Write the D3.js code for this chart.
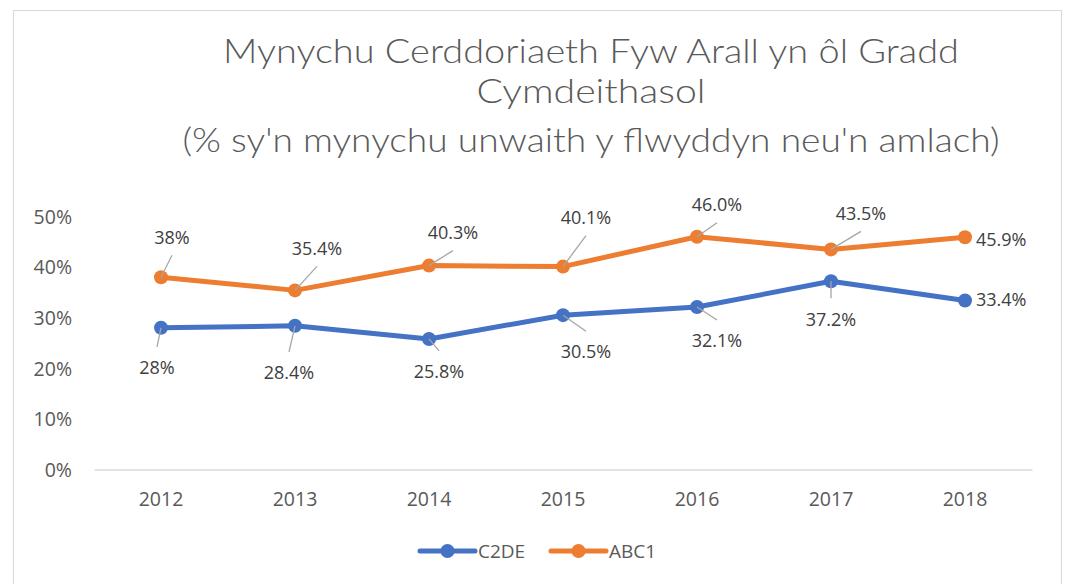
<!DOCTYPE html>
<html>
<head>
<meta charset="utf-8">
<script src="https://cdn.jsdelivr.net/npm/d3@7"></script>
<style>
  body { margin: 0; background: #fff; }
  text { font-family: "Open Sans", "Noto Sans", sans-serif; }
</style>
</head>
<body>
<div id="chart"></div>
<script>
const years = ["2012", "2013", "2014", "2015", "2016", "2017", "2018"];
const c2de = [28, 28.4, 25.8, 30.5, 32.1, 37.2, 33.4];
const abc1 = [38, 35.4, 40.3, 40.1, 46.0, 43.5, 45.9];
const c2deLabels = ["28%", "28.4%", "25.8%", "30.5%", "32.1%", "37.2%", "33.4%"];
const abc1Labels = ["38%", "35.4%", "40.3%", "40.1%", "46.0%", "43.5%", "45.9%"];
const yTicks = [0, 10, 20, 30, 40, 50];

// label placement relative to each point (pixels)
const c2deOffsets = [[-4, 40], [-6, 47], [10, 33], [23, 37], [20, 34], [0, 38], [33, -1]];
const abc1Offsets = [[11, -40], [22, -42], [24, -33], [23, -49], [20, -32], [30, -36], [33, 2]];

const WIDTH = 1068;
const HEIGHT = 584;
const BLUE = "#4472C4";
const ORANGE = "#ED7D31";

const svg = d3.select("#chart")
  .append("svg")
  .attr("width", WIDTH)
  .attr("height", HEIGHT);

svg.append("rect")
  .attr("x", 13.5)
  .attr("y", 10.5)
  .attr("width", 1048)
  .attr("height", 600)
  .attr("fill", "#fff")
  .attr("stroke", "#d9d9d9");

// titles
function addTitle(txt, y, len, size) {
  svg.append("text")
    .attr("x", 591)
    .attr("y", y)
    .attr("text-anchor", "middle")
    .attr("fill", "#595959")
    .style("font-family", "Lato, 'Open Sans', sans-serif")
    .style("font-weight", 300)
    .style("font-size", size + "px")
    .attr("textLength", len)
    .attr("lengthAdjust", "spacingAndGlyphs")
    .text(txt);
}
addTitle("Mynychu Cerddoriaeth Fyw Arall yn ôl Gradd", 63, 736, 33);
addTitle("Cymdeithasol", 103, 229, 33);
addTitle("(% sy'n mynychu unwaith y flwyddyn neu'n amlach)", 152, 817, 33);

const x = d3.scaleBand()
  .domain(years)
  .range([94, 1032]);

const y = d3.scaleLinear()
  .domain([0, 50])
  .range([469.5, 216.5]);

// y axis labels
const yAxis = d3.axisLeft(y)
  .tickValues(yTicks)
  .tickSize(0)
  .tickPadding(0)
  .tickFormat(d => d + "%");
const ya = svg.append("g")
  .attr("transform", "translate(72, 0)")
  .call(yAxis);
ya.select(".domain").remove();
ya.selectAll("text")
  .attr("dy", "0.35em")
  .style("font-family", "'Open Sans', 'Noto Sans', sans-serif")
  .style("font-size", "19.5px")
  .attr("fill", "#595959");

// x axis
const xAxis = d3.axisBottom(x).tickSize(0).tickPadding(23);
const xa = svg.append("g")
  .attr("transform", `translate(0, ${y(0)})`)
  .call(xAxis);
xa.select(".domain").attr("stroke", "#d9d9d9").attr("stroke-width", 1.5);
xa.selectAll("text")
  .style("font-family", "'Open Sans', 'Noto Sans', sans-serif")
  .style("font-size", "19.5px")
  .attr("fill", "#595959");

const cx = d => x(d) + x.bandwidth() / 2;

function drawSeries(values, labels, offsets, color) {
  const line = d3.line()
    .x((d, i) => cx(years[i]))
    .y(d => y(d));

  svg.append("path")
    .datum(values)
    .attr("d", line)
    .attr("fill", "none")
    .attr("stroke", color)
    .attr("stroke-width", 5)
    .attr("stroke-linejoin", "round");

  svg.append("g")
    .selectAll("circle")
    .data(values)
    .enter()
    .append("circle")
    .attr("cx", (d, i) => cx(years[i]))
    .attr("cy", d => y(d))
    .attr("r", 7)
    .attr("fill", color);

  // leader lines
  values.forEach((v, i) => {
    const [dx, dy] = offsets[i];
    if (Math.abs(dy) < 10) return;
    const px = cx(years[i]);
    const py = y(v);
    const ly = dy < 0 ? py + dy + 18 : py + dy - 21;
    svg.append("line")
      .attr("x1", px)
      .attr("y1", py)
      .attr("x2", px + dx)
      .attr("y2", ly)
      .attr("stroke", "#a6a6a6")
      .attr("stroke-width", 1.3);
  });

  svg.append("g")
    .selectAll("text")
    .data(values)
    .enter()
    .append("text")
    .attr("x", (d, i) => cx(years[i]) + offsets[i][0])
    .attr("y", (d, i) => y(d) + offsets[i][1])
    .attr("dy", "0.35em")
    .attr("text-anchor", (d, i) => Math.abs(offsets[i][1]) < 10 ? "start" : "middle")
    .attr("dx", (d, i) => Math.abs(offsets[i][1]) < 10 ? -22 : 0)
    .style("font-size", "18px")
    .attr("fill", "#404040")
    .text((d, i) => labels[i]);
}

drawSeries(c2de, c2deLabels, c2deOffsets, BLUE);
drawSeries(abc1, abc1Labels, abc1Offsets, ORANGE);

// legend
const legendItems = [
  { name: "C2DE", color: BLUE, x: 420 },
  { name: "ABC1", color: ORANGE, x: 551 }
];
const lg = svg.append("g").attr("transform", "translate(0, 551)");
legendItems.forEach(item => {
  lg.append("line")
    .attr("x1", item.x)
    .attr("x2", item.x + 55)
    .attr("stroke", item.color)
    .attr("stroke-width", 5)
    .attr("stroke-linecap", "round");
  lg.append("circle")
    .attr("cx", item.x + 27.5)
    .attr("r", 7)
    .attr("fill", item.color);
  lg.append("text")
    .attr("x", item.x + 58)
    .attr("dy", "0.35em")
    .style("font-size", "19px")
    .attr("fill", "#595959")
    .text(item.name);
});
</script>
</body>
</html>
